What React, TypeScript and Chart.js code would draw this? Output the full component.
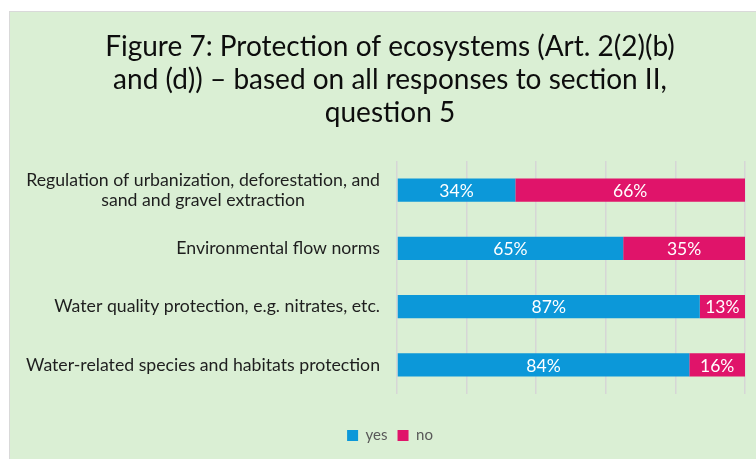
import React, { useEffect, useRef } from "react";
import { Chart, registerables } from "chart.js";

Chart.register(...registerables);

const titleLines = [
  "Figure 7: Protection of ecosystems (Art. 2(2)(b)",
  "and (d)) \u2013 based on all responses to section II,",
  "question 5",
];

const categories: string[][] = [
  ["Regulation of urbanization, deforestation, and", "sand and gravel extraction"],
  ["Environmental flow norms"],
  ["Water quality protection, e.g. nitrates, etc."],
  ["Water-related species and habitats protection"],
];

const yesValues = [34, 65, 87, 84];
const noValues = [66, 35, 13, 16];
const seriesNames = ["yes", "no"];
const xTickValues = [0, 20, 40, 60, 80, 100];

const FONT = "Lato, Carlito, 'Open Sans', sans-serif";

const labelsPlugin = {
  id: "customLabels",
  afterDatasetsDraw(chart: any) {
    const ctx = chart.ctx;
    ctx.save();
    // data labels
    ctx.font = `17.5px ${FONT}`;
    ctx.fillStyle = "#ffffff";
    ctx.textAlign = "center";
    ctx.textBaseline = "middle";
    chart.data.datasets.forEach((ds: any, di: number) => {
      const meta = chart.getDatasetMeta(di);
      meta.data.forEach((el: any, i: number) => {
        const v = ds.data[i];
        const cx = (el.x + el.base) / 2;
        ctx.fillText(`${v}%`, cx, el.y + 1);
      });
    });
    // category labels
    const yScale = chart.scales.y;
    const right = chart.chartArea.left - 17;
    ctx.fillStyle = "#1e1e1e";
    ctx.font = `17.7px ${FONT}`;
    const lh = 20;
    categories.forEach((lines, i) => {
      const y = yScale.getPixelForValue(i);
      const maxW = Math.max(...lines.map((l) => ctx.measureText(l).width));
      const cx = right - maxW / 2;
      const y0 = y - ((lines.length - 1) * lh) / 2;
      lines.forEach((l, k) => ctx.fillText(l, cx, y0 + k * lh));
    });
    ctx.restore();
  },
};

export default function App() {
  const ref = useRef<HTMLCanvasElement | null>(null);

  useEffect(() => {
    document.body.style.margin = "0";
    const canvas = ref.current!;
    const chart = new Chart(canvas, {
      type: "bar",
      data: {
        labels: categories.map((c) => c.join(" ")),
        datasets: [
          {
            label: seriesNames[0],
            data: yesValues,
            backgroundColor: "#0C98D9",
            borderWidth: 0,
            barPercentage: 0.4,
            categoryPercentage: 1,
          },
          {
            label: seriesNames[1],
            data: noValues,
            backgroundColor: "#E0146A",
            borderWidth: 0,
            barPercentage: 0.4,
            categoryPercentage: 1,
          },
        ],
      },
      options: {
        indexAxis: "y",
        animation: false,
        responsive: false,
        layout: { padding: { left: 25, right: 11, top: 0, bottom: 6 } },
        scales: {
          x: {
            stacked: true,
            min: 0,
            max: 100,
            afterBuildTicks: (scale: any) => {
              scale.ticks = xTickValues.map((v) => ({ value: v }));
            },
            ticks: { display: false },
            grid: { color: "#D6D6D6", lineWidth: 1.5, drawTicks: false },
            border: { display: false },
            afterFit: (scale: any) => {
              scale.height = 24;
            },
          },
          y: {
            stacked: true,
            ticks: { display: false },
            grid: { display: false },
            border: { display: false },
            afterFit: (scale: any) => {
              scale.width = 362;
            },
          },
        },
        plugins: {
          title: {
            display: true,
            text: titleLines,
            color: "#0d0d0d",
            font: { family: FONT, size: 28, weight: "normal", lineHeight: 1.19 },
            padding: { top: 18, bottom: 31 },
          },
          legend: {
            display: true,
            position: "bottom",
            labels: {
              boxWidth: 11,
              boxHeight: 11,
              padding: 10,
              color: "#595959",
              font: { family: FONT, size: 15 },
            },
          },
          tooltip: { enabled: false },
        },
      },
      plugins: [labelsPlugin],
    } as any);
    return () => chart.destroy();
  }, []);

  return (
    <div style={{ position: "relative", width: 756, height: 459, background: "#ffffff", overflow: "hidden" }}>
      <div
        style={{
          position: "absolute",
          left: 9,
          top: 11,
          width: 747,
          height: 448,
          background: "#DAEFD4",
          borderLeft: "1px solid #D9D9D9",
          borderTop: "1px solid #D9D9D9",
          boxSizing: "border-box",
        }}
      >
        <canvas ref={ref} width={746} height={447} style={{ display: "block" }} />
      </div>
    </div>
  );
}
